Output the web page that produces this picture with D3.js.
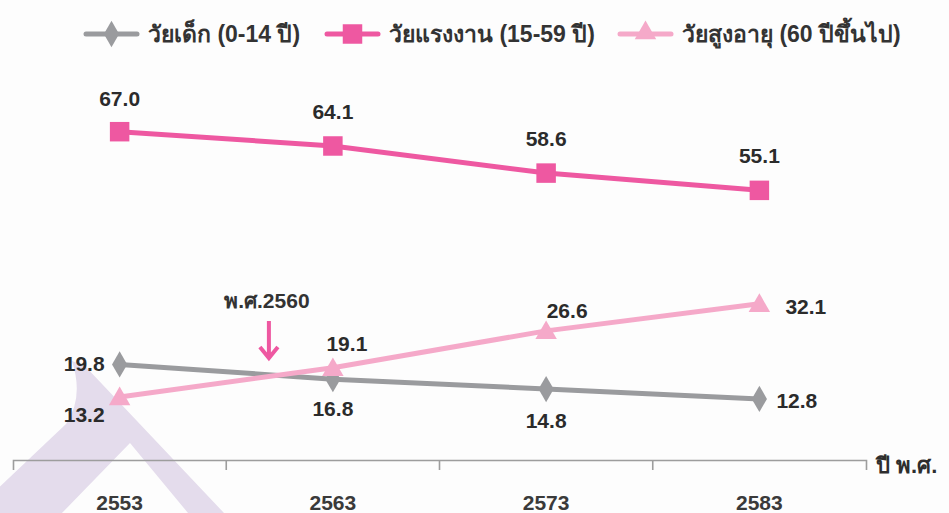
<!DOCTYPE html>
<html lang="th">
<head>
<meta charset="utf-8">
<script src="https://cdn.jsdelivr.net/npm/d3@7/dist/d3.min.js"></script>
<style>
  html, body { margin: 0; padding: 0; background: #fdfdfd; }
  svg { display: block; }
  text { font-family: "Liberation Sans", Arial, "Noto Sans", sans-serif; font-weight: bold; }
</style>
</head>
<body>
<svg id="chart" width="949" height="513"></svg>
<script>
// Population share by age group (percent), Thai Buddhist-era years
const years = ["2553", "2563", "2573", "2583"];
const children = [19.8, 16.8, 14.8, 12.8];
const working = [67.0, 64.1, 58.6, 55.1];
const elderly = [13.2, 19.1, 26.6, 32.1];
const seriesNames = ["วัยเด็ก (0-14 ปี)", "วัยแรงงาน (15-59 ปี)", "วัยสูงอายุ (60 ปีขึ้นไป)"];
const axisTitle = "ปี พ.ศ.";
const noteYear = 2560;
const noteText = "พ.ศ.2560";

const svg = d3.select("#chart");

// Soft lavender mark in the lower-left corner
svg.append("path")
  .attr("d", "M-10,496 L66,424 Q84,398 72,361 L85,366 L224,513 L188,513 L130,443 L62,513 L-10,513 Z")
  .attr("fill", "#e4dcec");

const x = d3.scaleBand().domain(years).range([13, 866]).padding(0);
const cx = d => x(d) + x.bandwidth() / 2;
const y = d3.scaleLinear().domain([0, 70]).range([462, 462 - 70 * 4.93]);
const yearScale = d3.scaleLinear()
  .domain([+years[0], +years[years.length - 1]])
  .range([cx(years[0]), cx(years[years.length - 1])]);

const series = [
  { name: seriesNames[0], values: children, color: "#9a9b9e", shape: "diamond" },
  { name: seriesNames[1], values: working,  color: "#ee58a1", shape: "square" },
  { name: seriesNames[2], values: elderly,  color: "#f5a9c9", shape: "triangle" }
];

// Where each value label sits relative to its point: [anchor, dx, dy]
const labelPlacement = [
  [["end", -15, 7], ["middle", 0, 37], ["middle", 0, 39], ["start", 17, 9]],
  [["middle", 0, -26], ["middle", 0, -27], ["middle", 0, -27], ["middle", 0, -27]],
  [["end", -15, 25], ["middle", 14, -17], ["middle", 21, -13], ["start", 26, 10]]
];

// Legend item left edges (line start)
const legendX = [86, 327, 620];

const symbolFor = {
  diamond: d3.symbol().type(d3.symbolDiamond).size(200),
  square: d3.symbol().type(d3.symbolSquare).size(380),
  triangle: d3.symbol().type(d3.symbolTriangle).size(200)
};

// Axis: baseline with outer ticks, edge ticks between bands, year labels centred
const axisG = svg.append("g").attr("transform", "translate(0,460)");
axisG.call(d3.axisBottom(x).tickSize(0).tickSizeOuter(10).tickPadding(35))
  .call(g => g.select(".domain").attr("stroke", "#9d9d9d").attr("stroke-width", 1.6))
  .call(g => g.selectAll(".tick text")
    .attr("fill", "#3a3a3a").attr("font-size", 21)
    .attr("font-family", "'Liberation Sans', Arial, sans-serif").attr("font-weight", "bold"));
axisG.selectAll(".edge")
  .data(years.slice(1))
  .join("line")
  .attr("x1", d => x(d)).attr("x2", d => x(d))
  .attr("y1", 0).attr("y2", 10)
  .attr("stroke", "#9d9d9d").attr("stroke-width", 1.6);

svg.append("text")
  .attr("x", 876).attr("y", 473)
  .attr("font-size", 22).attr("fill", "#2e2e2e")
  .text(axisTitle);

// Lines and markers
const line = d3.line().x((d, i) => cx(years[i])).y(d => y(d));
series.forEach(s => {
  svg.append("path")
    .datum(s.values)
    .attr("d", line)
    .attr("fill", "none")
    .attr("stroke", s.color)
    .attr("stroke-width", 5);
  svg.selectAll(null)
    .data(s.values)
    .join("path")
    .attr("d", symbolFor[s.shape])
    .attr("transform", (d, i) => `translate(${cx(years[i])},${y(d) + (s.shape === "triangle" ? 2 : 0)})`)
    .attr("fill", s.color);
});

// Value labels
series.forEach((s, si) => {
  svg.selectAll(null)
    .data(s.values)
    .join("text")
    .attr("x", (d, i) => cx(years[i]) + labelPlacement[si][i][1])
    .attr("y", (d, i) => y(d) + labelPlacement[si][i][2])
    .attr("text-anchor", (d, i) => labelPlacement[si][i][0])
    .attr("font-size", 21)
    .attr("fill", "#2b2b2b")
    .text(d => d.toFixed(1));
});

// Annotation arrow at the crossover year
const ax = yearScale(noteYear);
svg.append("text")
  .attr("x", ax - 2).attr("y", 308)
  .attr("text-anchor", "middle")
  .attr("font-size", 21).attr("fill", "#333")
  .text(noteText);
svg.append("path")
  .attr("d", `M${ax},321 V358 M${ax - 9},347 L${ax},358 L${ax + 9},347`)
  .attr("fill", "none")
  .attr("stroke", "#ee58a1")
  .attr("stroke-width", 4)
  .attr("stroke-linejoin", "miter");

// Legend
const legend = svg.append("g").attr("transform", "translate(0,34)");
series.forEach((s, i) => {
  const g = legend.append("g").attr("transform", `translate(${legendX[i]},0)`);
  g.append("line").attr("x1", 0).attr("x2", 51).attr("y1", 0).attr("y2", 0)
    .attr("stroke", s.color).attr("stroke-width", 5).attr("stroke-linecap", "round");
  g.append("path")
    .attr("d", symbolFor[s.shape])
    .attr("transform", `translate(25.5,${s.shape === "triangle" ? -1 : 0})`)
    .attr("fill", s.color);
  g.append("text")
    .attr("x", 62).attr("y", 8)
    .attr("font-size", 23).attr("fill", "#333")
    .text(s.name);
});
</script>
</body>
</html>
